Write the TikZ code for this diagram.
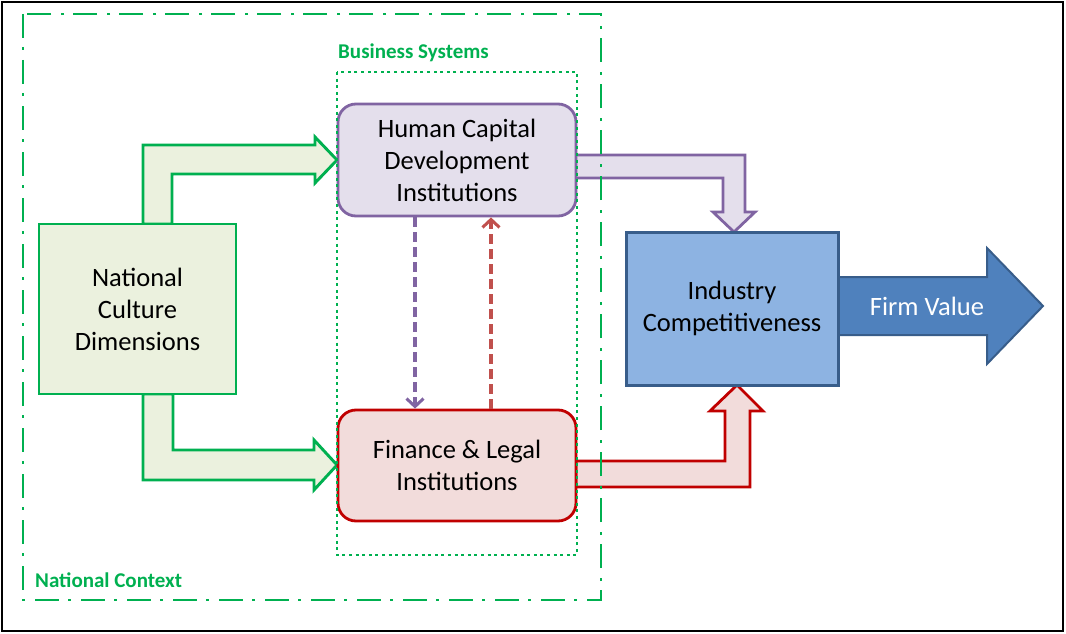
\documentclass[tikz,border=0pt]{standalone}
\usepackage{fontspec}
\setmainfont{Carlito}
\usetikzlibrary{arrows.meta}

\definecolor{ctxgreen}{HTML}{00B050}
\definecolor{culturefill}{HTML}{EBF1DE}
\definecolor{hcline}{HTML}{8064A2}
\definecolor{hcfill}{HTML}{E4DFEC}
\definecolor{finline}{HTML}{C00000}
\definecolor{finfill}{HTML}{F2DCDB}
\definecolor{findash}{HTML}{C0504D}
\definecolor{indfill}{HTML}{8DB3E2}
\definecolor{indline}{HTML}{385D8A}
\definecolor{firmfill}{HTML}{4F81BD}

\tikzset{
  boxtext/.style={align=center, text=black, font=\fontsize{26.5}{32}\selectfont},
  ctxlabel/.style={anchor=west, inner sep=0pt, text=ctxgreen, font=\fontsize{21}{24}\selectfont\bfseries},
  dasharrow/.style={line width=3.2pt, dash pattern=on 10pt off 5pt, -{Straight Barb[length=8pt,width=17pt,line width=3pt]}}
}

\begin{document}
\begin{tikzpicture}[x=1pt,y=-1pt]
   \useasboundingbox (0,0) rectangle (1066,634);
   \draw[line width=2.5pt] (2,2) rectangle (1063,631);

   % block arrows
   \draw[line width=2.9pt, ctxgreen, fill=culturefill] (143,224) -- (143,145) -- (315,145) -- (315,137) -- (337,160) -- (315,183) -- (315,174) -- (172,174) -- (172,224) -- cycle;
   \draw[line width=2.9pt, ctxgreen, fill=culturefill] (143,394) -- (143,480) -- (314,480) -- (314,490) -- (337,465) -- (314,440) -- (314,450) -- (173,450) -- (173,394) -- cycle;
   \draw[line width=2.8pt, hcline, fill=hcfill] (575,155) -- (745,155) -- (745,212) -- (755,212) -- (734,232) -- (713,212) -- (723,212) -- (723,178) -- (575,178) -- cycle;
   \draw[line width=2.8pt, finline, fill=finfill] (576,461) -- (725,461) -- (725,411) -- (710,411) -- (737,385) -- (763,411) -- (750,411) -- (750,487) -- (576,487) -- cycle;
   \draw[line width=2pt, indline, fill=firmfill] (838,277) -- (987,277) -- (987,248) -- (1043,306) -- (987,364) -- (987,335) -- (838,335) -- cycle;
   \node[boxtext, text=white] (firm) at (927,306) {Firm Value};

   % boxes
   \node[boxtext, draw=ctxgreen, fill=culturefill, line width=2.9pt, minimum width=197pt, minimum height=170pt] (culture) at (137.5,309) {National\\Culture\\Dimensions};
   \node[boxtext, draw=hcline, fill=hcfill, line width=2.8pt, rounded corners=18pt, minimum width=238pt, minimum height=112pt] (hc) at (457,160) {Human Capital\\Development\\Institutions};
   \node[boxtext, draw=finline, fill=finfill, line width=2.8pt, rounded corners=18pt, minimum width=238pt, minimum height=111pt] (fin) at (457,465.5) {Finance \& Legal\\Institutions};
   \node[boxtext, draw=indline, fill=indfill, line width=3pt, minimum width=212pt, minimum height=153pt] (ind) at (732,308.5) {Industry\\Competitiveness};

   % dashed links
   \draw[dasharrow, hcline] ([xshift=-42pt]hc.south) -- ([xshift=-42pt]fin.north);
   \draw[dasharrow, findash] ([xshift=34pt]fin.north) -- ([xshift=34pt]hc.south);

   % frames
   \draw[ctxgreen, line width=2.8pt, dash pattern=on 24pt off 9pt on 3pt off 10pt] (23,14) rectangle (601,600);
   \draw[ctxgreen, line width=2.9pt, dash pattern=on 3pt off 3.6pt] (337,72) rectangle (577,555);
   \node[ctxlabel] (bslabel) at (338,53) {Business Systems};
   \node[ctxlabel] (nclabel) at (35,580) {National Context};
\end{tikzpicture}
\end{document}
